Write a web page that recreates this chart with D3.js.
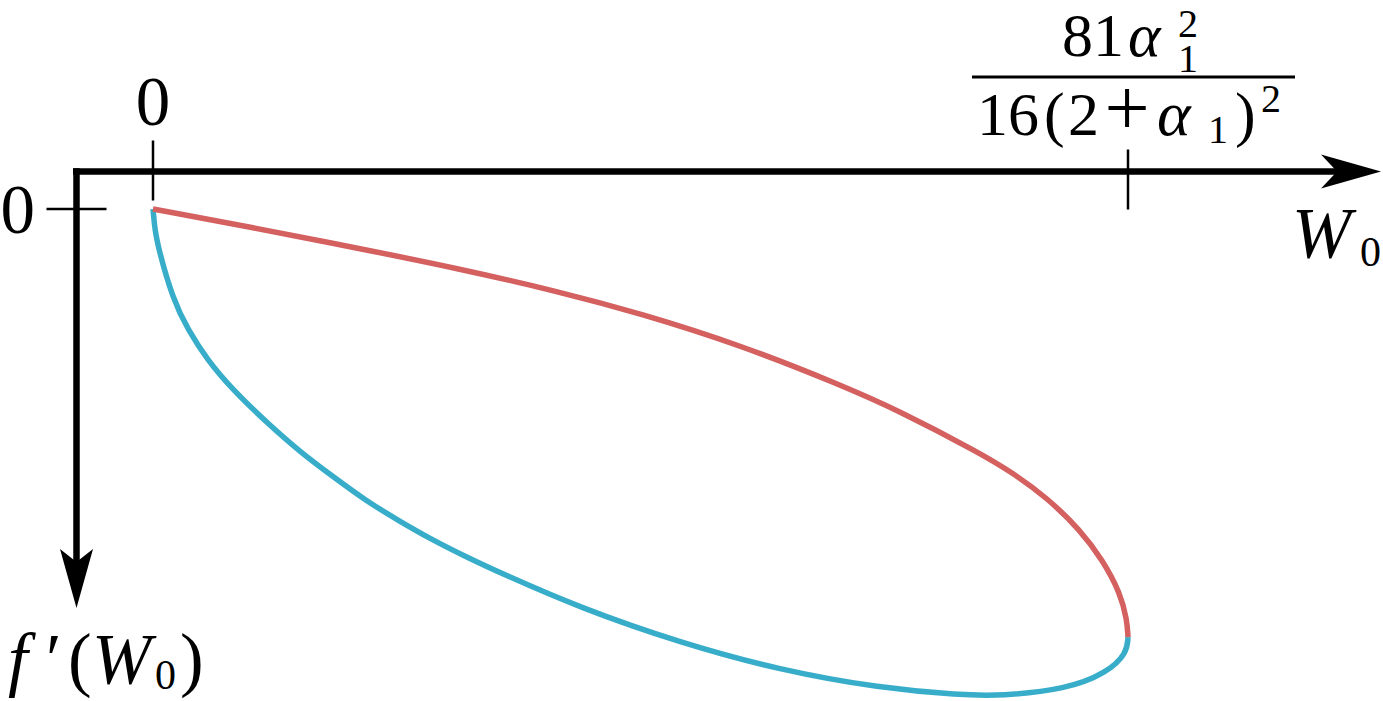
<!DOCTYPE html>
<html>
<head>
<meta charset="utf-8">
<script src="https://cdn.jsdelivr.net/npm/d3@7"></script>
<style>
  body { margin: 0; background: #fff; }
  svg { display: block; }
</style>
</head>
<body>
<div id="chart"></div>
<script>
// W0 in units of 81a^2/16(2+a)^2, f'(W0) positive downwards (arbitrary units)
const upperW = [0, 0.0995, 0.209, 0.315, 0.417, 0.499, 0.602, 0.705, 0.766, 0.848, 0.882, 0.917, 0.951, 0.974, 0.992, 0.999, 1.0];
const upperF = [0, 0.037, 0.080, 0.123, 0.170, 0.214, 0.279, 0.361, 0.415, 0.501, 0.542, 0.593, 0.659, 0.721, 0.788, 0.844, 0.879];

const lowerW = [0, 0.0015, 0.004, 0.0205, 0.036, 0.055, 0.082, 0.117, 0.151, 0.185, 0.219, 0.253, 0.287, 0.322, 0.356, 0.438, 0.541, 0.643, 0.746, 0.828, 0.869, 0.937, 0.978, 0.999, 1.0];
const lowerF = [0, 0.033, 0.070, 0.187, 0.248, 0.308, 0.372, 0.439, 0.499, 0.550, 0.600, 0.641, 0.680, 0.715, 0.747, 0.819, 0.891, 0.947, 0.984, 0.998, 1.0, 0.986, 0.953, 0.912, 0.879];

const xTicks = [0, 1];
const yTicks = [0];

const width = 1383, height = 701;
const serif = "'Times New Roman', Tinos, 'Liberation Serif', 'DejaVu Serif', 'Noto Serif', serif";

const svg = d3.select("#chart")
  .append("svg")
  .attr("width", width)
  .attr("height", height)
  .attr("font-family", serif);

// scales: W0 across, f' downwards
const x = d3.scaleLinear().domain([0, 1]).range([153, 1128]);
const y = d3.scaleLinear().domain([0, 1]).range([209, 696]);

// where the axes sit in data space
const axisX0 = x.invert(76.5);
const axisY0 = y.invert(171.5);

// horizontal axis + arrow
const ax = x(axisX0), ay = y(axisY0);
svg.append("line")
  .attr("x1", ax - 3.5).attr("y1", ay)
  .attr("x2", 1340).attr("y2", ay)
  .attr("stroke", "#000").attr("stroke-width", 6.5);
svg.append("path")
  .attr("d", `M1381,${ay} L1321,${ay - 17} L1337,${ay} L1321,${ay + 17} Z`)
  .attr("fill", "#000");

// vertical axis + arrow
svg.append("line")
  .attr("x1", ax).attr("y1", ay - 3.25)
  .attr("x2", ax).attr("y2", 565)
  .attr("stroke", "#000").attr("stroke-width", 6.5);
svg.append("path")
  .attr("d", `M${ax},608 L${ax - 16.5},549 L${ax},562 L${ax + 16.5},549 Z`)
  .attr("fill", "#000");

// x ticks (the second one is shortened above, under the fraction)
const xTickUp = [31, 22];
const xTickDown = [29, 38];
svg.selectAll(".xtick")
  .data(xTicks)
  .enter().append("line")
  .attr("class", "xtick")
  .attr("x1", d => x(d)).attr("x2", d => x(d))
  .attr("y1", (d, i) => ay - xTickUp[i])
  .attr("y2", (d, i) => ay + xTickDown[i])
  .attr("stroke", "#000").attr("stroke-width", 2.5);

svg.selectAll(".ytick")
  .data(yTicks)
  .enter().append("line")
  .attr("class", "ytick")
  .attr("x1", ax - 30).attr("x2", ax + 30)
  .attr("y1", d => y(d)).attr("y2", d => y(d))
  .attr("stroke", "#000").attr("stroke-width", 2.5);

// small helper for a piece of text
function put(g, px, py, size, str, italic, anchor) {
  return g.append("text")
    .attr("x", px).attr("y", py)
    .attr("text-anchor", anchor || "start")
    .style("font-family", serif)
    .style("font-size", size + "px")
    .style("font-style", italic ? "italic" : "normal")
    .text(str);
}

// tick labels
put(svg, x(0), 125, 69, "0", false, "middle");
put(svg, 35, y(0) + 24, 69, "0", false, "end");

// fraction label for the right tick: 81 a1^2 / 16(2+a1)^2
const frac = svg.append("g");
put(frac, 1062, 56, 62, "81", false);
put(frac, 1128, 56, 62, "α", true);
put(frac, 1178, 37, 40, "2", false);
put(frac, 1178, 72, 40, "1", false);

frac.append("line")
  .attr("x1", 972).attr("x2", 1295)
  .attr("y1", 77).attr("y2", 77)
  .attr("stroke", "#000").attr("stroke-width", 3);

put(frac, 977, 135, 62, "16", false);
put(frac, 1044, 135, 62, "(", false);
put(frac, 1068, 135, 62, "2", false);
put(frac, x(1) - 1, 135, 80, "+", false, "middle");
put(frac, 1157, 135, 64, "α", true);
put(frac, 1208, 143, 40, "1", false);
put(frac, 1235, 135, 62, ")", false);
put(frac, 1261, 112, 40, "2", false);

// axis titles
put(svg, 1292, 257, 71, "W", true);
put(svg, 1360, 266, 42, "0", false);

const ft = svg.append("g");
put(ft, 8, 683, 71, "f", true);
put(ft, 46, 683, 71, "′", false);
put(ft, 68, 683, 71, "(", false);
put(ft, 92, 683, 71, "W", true);
put(ft, 155, 689, 42, "0", false);
put(ft, 180, 683, 71, ")", false);

// the two branches
const line = d3.line()
  .x(d => x(d[0]))
  .y(d => y(d[1]))
  .curve(d3.curveBasis);

const upper = upperW.map((w, i) => [w, upperF[i]]);
const lower = lowerW.map((w, i) => [w, lowerF[i]]);

svg.append("path")
  .datum(lower)
  .attr("d", line)
  .attr("fill", "none")
  .attr("stroke", "#38adc9")
  .attr("stroke-width", 5.5);

svg.append("path")
  .datum(upper)
  .attr("d", line)
  .attr("fill", "none")
  .attr("stroke", "#d46060")
  .attr("stroke-width", 5.5);
</script>
</body>
</html>
